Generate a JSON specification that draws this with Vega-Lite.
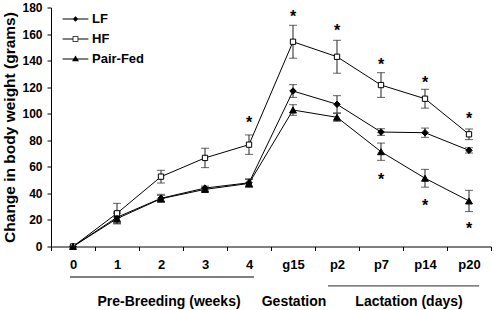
{
  "$schema": "https://vega.github.io/schema/vega-lite/v6.json",
  "width": 440,
  "height": 239,
  "autosize": {"type": "none"},
  "padding": {"left": 51, "top": 7.5, "right": 3, "bottom": 63.5},
  "config": {
    "font": "Liberation Sans",
    "view": {"stroke": null},
    "axisX": {"domainColor": "black", "tickColor": "black", "tickSize": 4, "tickBand": "extent", "labelAngle": 0, "labelFontSize": 13, "labelFontWeight": "bold", "labelColor": "black", "labelPadding": 8, "grid": false},
    "axisY": {"domainColor": "black", "tickColor": "black", "tickSize": 4, "labelFontSize": 12, "labelFontWeight": "bold", "labelColor": "black", "labelPadding": 5, "grid": false, "titleFontSize": 15.5, "titleFontWeight": "bold", "titleColor": "black", "titlePadding": 4, "values": [0, 20, 40, 60, 80, 100, 120, 140, 160, 180]}
  },
  "datasets": {
    "series": [
      {"group": "LF", "t": "0", "v": 0, "lo": null, "hi": null},
      {"group": "LF", "t": "1", "v": 22, "lo": 18, "hi": 26},
      {"group": "LF", "t": "2", "v": 36.3, "lo": 33.3, "hi": 39.3},
      {"group": "LF", "t": "3", "v": 44, "lo": 42.5, "hi": 45.5},
      {"group": "LF", "t": "4", "v": 48, "lo": 45, "hi": 51},
      {"group": "LF", "t": "g15", "v": 117.1, "lo": 112.3, "hi": 121.9},
      {"group": "LF", "t": "p2", "v": 107.1, "lo": 100.6, "hi": 113.6},
      {"group": "LF", "t": "p7", "v": 86.2, "lo": 83.7, "hi": 88.7},
      {"group": "LF", "t": "p14", "v": 85.7, "lo": 82.2, "hi": 89.2},
      {"group": "LF", "t": "p20", "v": 72.4, "lo": 70.4, "hi": 74.4},
      {"group": "HF", "t": "0", "v": 0, "lo": null, "hi": null},
      {"group": "HF", "t": "1", "v": 25, "lo": 17.5, "hi": 32.5},
      {"group": "HF", "t": "2", "v": 52.6, "lo": 47.8, "hi": 57.4},
      {"group": "HF", "t": "3", "v": 66.7, "lo": 59.4, "hi": 74},
      {"group": "HF", "t": "4", "v": 76.7, "lo": 69.4, "hi": 84},
      {"group": "HF", "t": "g15", "v": 154.2, "lo": 141.8, "hi": 166.6},
      {"group": "HF", "t": "p2", "v": 142.9, "lo": 130.5, "hi": 155.3},
      {"group": "HF", "t": "p7", "v": 121.6, "lo": 112.3, "hi": 130.9},
      {"group": "HF", "t": "p14", "v": 111.3, "lo": 104.2, "hi": 118.4},
      {"group": "HF", "t": "p20", "v": 84.5, "lo": 80.5, "hi": 88.5},
      {"group": "Pair-Fed", "t": "0", "v": 0, "lo": null, "hi": null},
      {"group": "Pair-Fed", "t": "1", "v": 21, "lo": 17, "hi": 25},
      {"group": "Pair-Fed", "t": "2", "v": 36, "lo": 33.5, "hi": 38.5},
      {"group": "Pair-Fed", "t": "3", "v": 43, "lo": 41.5, "hi": 44.5},
      {"group": "Pair-Fed", "t": "4", "v": 47.5, "lo": 44.5, "hi": 50.5},
      {"group": "Pair-Fed", "t": "g15", "v": 102.8, "lo": 98.8, "hi": 106.8},
      {"group": "Pair-Fed", "t": "p2", "v": 97.3, "lo": 94.3, "hi": 100.3},
      {"group": "Pair-Fed", "t": "p7", "v": 71.4, "lo": 64.9, "hi": 77.9},
      {"group": "Pair-Fed", "t": "p14", "v": 51.4, "lo": 44.7, "hi": 58.1},
      {"group": "Pair-Fed", "t": "p20", "v": 34.3, "lo": 26.3, "hi": 42.3}
    ],
    "stars": [
      {"t": "4", "v": 95.8},
      {"t": "g15", "v": 175.6},
      {"t": "p2", "v": 165.1},
      {"t": "p7", "v": 139.9},
      {"t": "p14", "v": 125.9},
      {"t": "p20", "v": 99},
      {"t": "p7", "v": 53.3},
      {"t": "p14", "v": 33.3},
      {"t": "p20", "v": 16.2}
    ],
    "brackets": [
      {"name": "pre", "t": "0", "t2": "4", "v": -23},
      {"name": "lac", "t": "p2", "t2": "p20", "v": -29.7}
    ],
    "notes": [
      {"name": "pre", "label": "Pre-Breeding (weeks)", "t": "2", "v": -41.5},
      {"name": "gest", "label": "Gestation", "t": "g15", "v": -41.5},
      {"name": "lac", "label": "Lactation (days)", "t": "p7", "v": -41.5}
    ]
  },
  "layer": [
    {
      "data": {"name": "series"},
      "mark": {"type": "line", "color": "black", "strokeWidth": 1},
      "encoding": {
        "x": {"field": "t", "type": "ordinal", "title": null, "scale": {"domain": ["0", "1", "2", "3", "4", "g15", "p2", "p7", "p14", "p20"], "paddingInner": 0, "paddingOuter": 0}},
        "y": {"field": "v", "type": "quantitative", "title": "Change in body weight (grams)", "scale": {"domain": [0, 180], "nice": false}},
        "detail": {"field": "group"}
      }
    },
    {
      "data": {"name": "series"},
      "mark": {"type": "rule", "color": "#222", "strokeWidth": 1},
      "encoding": {
        "x": {"field": "t", "type": "ordinal", "title": null},
        "y": {"field": "lo", "type": "quantitative", "title": "Change in body weight (grams)"},
        "y2": {"field": "hi"}
      }
    },
    {
      "data": {"name": "series"},
      "mark": {"type": "tick", "color": "#222", "size": 8, "thickness": 1, "orient": "horizontal"},
      "encoding": {
        "x": {"field": "t", "type": "ordinal", "title": null},
        "y": {"field": "lo", "type": "quantitative", "title": "Change in body weight (grams)"}
      }
    },
    {
      "data": {"name": "series"},
      "mark": {"type": "tick", "color": "#222", "size": 8, "thickness": 1, "orient": "horizontal"},
      "encoding": {
        "x": {"field": "t", "type": "ordinal", "title": null},
        "y": {"field": "hi", "type": "quantitative", "title": "Change in body weight (grams)"}
      }
    },
    {
      "data": {"name": "series"},
      "transform": [{"filter": "datum.group === 'LF'"}],
      "mark": {"type": "point", "shape": "diamond", "size": 42, "filled": true, "fill": "black", "stroke": "black", "strokeWidth": 1, "opacity": 1},
      "encoding": {
        "x": {"field": "t", "type": "ordinal", "title": null},
        "y": {"field": "v", "type": "quantitative", "title": "Change in body weight (grams)"}
      }
    },
    {
      "data": {"name": "series"},
      "transform": [{"filter": "datum.group === 'HF'"}],
      "mark": {"type": "point", "shape": "square", "size": 28, "filled": true, "fill": "white", "stroke": "black", "strokeWidth": 1, "opacity": 1},
      "encoding": {
        "x": {"field": "t", "type": "ordinal", "title": null},
        "y": {"field": "v", "type": "quantitative", "title": "Change in body weight (grams)"}
      }
    },
    {
      "data": {"name": "series"},
      "transform": [{"filter": "datum.group === 'Pair-Fed'"}],
      "mark": {"type": "point", "shape": "triangle-up", "size": 48, "filled": true, "fill": "black", "stroke": "black", "strokeWidth": 1, "opacity": 1},
      "encoding": {
        "x": {"field": "t", "type": "ordinal", "title": null},
        "y": {"field": "v", "type": "quantitative", "title": "Change in body weight (grams)"}
      }
    },
    {
      "data": {"name": "series"},
      "transform": [{"filter": "false"}],
      "mark": {"type": "point", "filled": true, "color": "black", "stroke": "black", "strokeWidth": 1, "opacity": 1},
      "encoding": {
        "x": {"field": "t", "type": "ordinal", "title": null},
        "y": {"field": "v", "type": "quantitative", "title": "Change in body weight (grams)"},
        "shape": {
          "field": "group", "type": "nominal",
          "scale": {"domain": ["LF", "HF", "Pair-Fed"], "range": [
            "M-4.3,-0.17L4.3,-0.17L4.3,0.17L-4.3,0.17ZM0,-0.95L0.95,0L0,0.95L-0.95,0Z",
            "M-4.3,-0.17L-0.95,-0.17L-0.95,0.17L-4.3,0.17ZM0.95,-0.17L4.3,-0.17L4.3,0.17L0.95,0.17ZM-0.95,-0.95L0.95,-0.95L0.95,0.95L-0.95,0.95ZM-0.7,-0.7L-0.7,0.7L0.7,0.7L0.7,-0.7Z",
            "M-4.3,-0.17L4.3,-0.17L4.3,0.17L-4.3,0.17ZM0,-1.2L1.15,0.75L-1.15,0.75Z"
          ]},
          "legend": {"title": null, "orient": "none", "legendX": 18, "legendY": 5, "padding": 0, "symbolSize": 36, "labelOffset": 10, "labelFontSize": 13, "labelFontWeight": "bold", "labelColor": "black", "rowPadding": 6, "symbolFillColor": "black", "symbolStrokeColor": "black", "symbolStrokeWidth": 0.6, "symbolOpacity": 1}
        }
      }
    },
    {
      "data": {"name": "stars"},
      "mark": {"type": "text", "fontSize": 16, "fontWeight": "bold", "baseline": "alphabetic", "dy": 9, "color": "black"},
      "encoding": {
        "x": {"field": "t", "type": "ordinal", "title": null},
        "y": {"field": "v", "type": "quantitative", "title": "Change in body weight (grams)"},
        "text": {"value": "*"}
      }
    },
    {
      "data": {"name": "brackets"},
      "transform": [{"filter": "datum.name === 'pre'"}],
      "mark": {"type": "rule", "color": "#555", "strokeWidth": 1.5, "xOffset": -3, "x2Offset": 5},
      "encoding": {
        "x": {"field": "t", "type": "ordinal", "title": null},
        "x2": {"field": "t2"},
        "y": {"field": "v", "type": "quantitative", "title": "Change in body weight (grams)"}
      }
    },
    {
      "data": {"name": "brackets"},
      "transform": [{"filter": "datum.name === 'lac'"}],
      "mark": {"type": "rule", "color": "#555", "strokeWidth": 1.2, "xOffset": -9, "x2Offset": 10},
      "encoding": {
        "x": {"field": "t", "type": "ordinal", "title": null},
        "x2": {"field": "t2"},
        "y": {"field": "v", "type": "quantitative", "title": "Change in body weight (grams)"}
      }
    },
    {
      "data": {"name": "notes"},
      "transform": [{"filter": "datum.name === 'pre'"}],
      "mark": {"type": "text", "fontSize": 14, "fontWeight": "bold", "baseline": "middle", "align": "center", "dx": 8, "color": "black"},
      "encoding": {
        "x": {"field": "t", "type": "ordinal", "title": null},
        "y": {"field": "v", "type": "quantitative", "title": "Change in body weight (grams)"},
        "text": {"field": "label"}
      }
    },
    {
      "data": {"name": "notes"},
      "transform": [{"filter": "datum.name === 'gest'"}],
      "mark": {"type": "text", "fontSize": 14, "fontWeight": "bold", "baseline": "middle", "align": "center", "dx": 1, "color": "black"},
      "encoding": {
        "x": {"field": "t", "type": "ordinal", "title": null},
        "y": {"field": "v", "type": "quantitative", "title": "Change in body weight (grams)"},
        "text": {"field": "label"}
      }
    },
    {
      "data": {"name": "notes"},
      "transform": [{"filter": "datum.name === 'lac'"}],
      "mark": {"type": "text", "fontSize": 14, "fontWeight": "bold", "baseline": "middle", "align": "center", "dx": 28, "color": "black"},
      "encoding": {
        "x": {"field": "t", "type": "ordinal", "title": null},
        "y": {"field": "v", "type": "quantitative", "title": "Change in body weight (grams)"},
        "text": {"field": "label"}
      }
    }
  ]
}
